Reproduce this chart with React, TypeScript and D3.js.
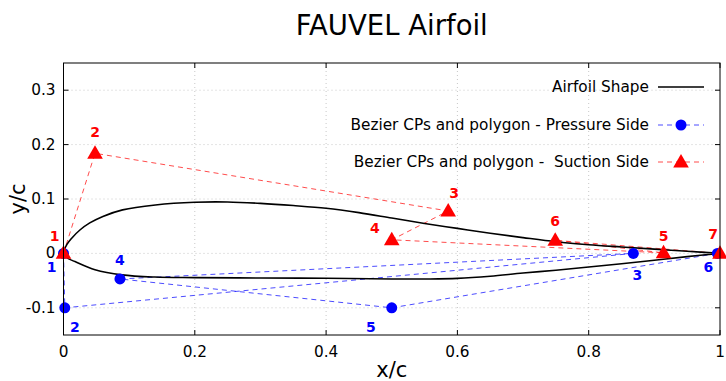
import React from "react";
import * as d3 from "d3";

const upperX = [0, 0.005, 0.0125, 0.025, 0.04, 0.06, 0.09, 0.14, 0.2, 0.25, 0.3, 0.35, 0.4, 0.45, 0.5, 0.55, 0.6, 0.65, 0.7, 0.75, 0.8, 0.85, 0.9, 0.95, 1.0];
const upperY = [0, 0.016, 0.028, 0.043, 0.056, 0.068, 0.08, 0.089, 0.094, 0.0945, 0.092, 0.088, 0.083, 0.075, 0.065, 0.055, 0.046, 0.037, 0.029, 0.0215, 0.016, 0.0118, 0.0078, 0.004, 0];
const lowerX = [0, 0.005, 0.0175, 0.048, 0.089, 0.139, 0.2, 0.3, 0.4, 0.5, 0.55, 0.6, 0.65, 0.7, 0.75, 0.8, 0.85, 0.9, 0.95, 1.0];
const lowerY = [0, -0.008, -0.015, -0.03, -0.0395, -0.0435, -0.0445, -0.0452, -0.0458, -0.047, -0.047, -0.046, -0.042, -0.036, -0.031, -0.025, -0.019, -0.0125, -0.006, 0];

const pressureX = [0, 0.002, 0.868, 0.086, 0.5, 0.996];
const pressureY = [0, -0.1, 0, -0.047, -0.1, 0];
const suctionX = [0, 0.048, 0.586, 0.5, 0.914, 0.749, 1.0];
const suctionY = [0, 0.184, 0.078, 0.025, 0.001, 0.024, 0];

// label offsets [dx, dy] in px for numbering
const pressureLabelOff = [[-12, 19], [10, 24], [4, 27], [0, -14], [-21, 24], [-9, 19]];
const suctionLabelOff = [[-9, -12], [0, -16], [6, -13], [-17, -7], [0, -12], [0, -14], [-7, -14]];

const xTicks = [0, 0.2, 0.4, 0.6, 0.8, 1];
const yTicks = [-0.1, 0, 0.1, 0.2, 0.3];
const legendLabels = ["Airfoil Shape", "Bezier CPs and polygon - Pressure Side", "Bezier CPs and polygon -  Suction Side"];

const W = 726, H = 381;
const L = 63.5, R = 720, T = 63, B = 335;
const FONT = "DejaVu Sans, sans-serif";

export default function App() {
  const x = d3.scaleLinear().domain([0, 1]).range([L, R]);
  const y = d3.scaleLinear().domain([-0.15, 0.35]).range([B, T]);

  const pts: [number, number][] = [];
  for (let i = upperX.length - 1; i >= 0; i--) pts.push([upperX[i], upperY[i]]);
  for (let i = 1; i < lowerX.length; i++) pts.push([lowerX[i], lowerY[i]]);
  const airfoil = d3.line<[number, number]>().x(d => x(d[0])).y(d => y(d[1])).curve(d3.curveCatmullRom.alpha(0.5))(pts) || "";

  const polyP = d3.line<number>().x(i => x(pressureX[i])).y(i => y(pressureY[i]))(pressureX.map((_, i) => i)) || "";
  const polyS = d3.line<number>().x(i => x(suctionX[i])).y(i => y(suctionY[i]))(suctionX.map((_, i) => i)) || "";

  const blue = "#0000ff";
  const red = "#ff0000";
  const tri = (cx: number, cy: number, s: number) =>
    `M${cx},${cy - s * 0.62}L${cx + s * 0.6},${cy + s * 0.42}L${cx - s * 0.6},${cy + s * 0.42}Z`;

  const grid = "#c8c8c8";
  const legY = [87, 125, 162];

  return (
    <svg width={W} height={H} style={{ position: "absolute", left: 0, top: 0, background: "#fff" }} fontFamily={FONT}>
      <rect x={0} y={0} width={W} height={H} fill="#fff" />
      <text x={(L + R) / 2} y={35} textAnchor="middle" fontSize={27.5}>FAUVEL Airfoil</text>
      {/* grid */}
      {xTicks.filter(t => t > 0 && t < 1).map(t => (
        <line key={"gx" + t} x1={x(t)} x2={x(t)} y1={T} y2={B} stroke={grid} strokeWidth={1} strokeDasharray="1,3" />
      ))}
      {yTicks.map(t => (
        <line key={"gy" + t} x1={L} x2={R} y1={y(t)} y2={y(t)} stroke={grid} strokeWidth={1} strokeDasharray="1,3" />
      ))}
      {/* ticks */}
      {xTicks.map(t => (
        <g key={"tx" + t}>
          <line x1={x(t)} x2={x(t)} y1={B} y2={B - 5} stroke="#000" />
          <line x1={x(t)} x2={x(t)} y1={T} y2={T + 5} stroke="#000" />
          <text x={x(t)} y={B + 22} textAnchor="middle" fontSize={15.3}>{String(t)}</text>
        </g>
      ))}
      {yTicks.map(t => (
        <g key={"ty" + t}>
          <line x1={L} x2={L + 5} y1={y(t)} y2={y(t)} stroke="#000" />
          <line x1={R} x2={R - 5} y1={y(t)} y2={y(t)} stroke="#000" />
          <text x={L - 8} y={y(t) + 5} textAnchor="end" fontSize={15.3}>{String(t)}</text>
        </g>
      ))}
      <text x={(L + R) / 2} y={377} textAnchor="middle" fontSize={21}>x/c</text>
      <text transform={`translate(25,${(T + B) / 2}) rotate(-90)`} textAnchor="middle" fontSize={21}>y/c</text>

      {/* polygons */}
      <path d={polyP} fill="none" stroke={blue} strokeOpacity={0.7} strokeWidth={1} strokeDasharray="5,4" />
      <path d={polyS} fill="none" stroke={red} strokeOpacity={0.7} strokeWidth={1} strokeDasharray="5,4" />
      {/* airfoil */}
      <path d={airfoil} fill="none" stroke="#000" strokeWidth={1.6} />
      {/* markers */}
      {pressureX.map((px, i) => (
        <circle key={"pc" + i} cx={x(px)} cy={y(pressureY[i])} r={5.5} fill={blue} />
      ))}
      {suctionX.map((sx, i) => (
        <path key={"st" + i} d={tri(x(sx), y(suctionY[i]), 13)} fill={red} />
      ))}
      {pressureX.map((px, i) => (
        <text key={"pl" + i} x={x(px) + pressureLabelOff[i][0]} y={y(pressureY[i]) + pressureLabelOff[i][1]} textAnchor="middle" fontSize={14} fontWeight="bold" fill={blue}>{i + 1}</text>
      ))}
      {suctionX.map((sx, i) => (
        <text key={"sl" + i} x={x(sx) + suctionLabelOff[i][0]} y={y(suctionY[i]) + suctionLabelOff[i][1]} textAnchor="middle" fontSize={14} fontWeight="bold" fill={red}>{i + 1}</text>
      ))}

      {/* frame */}
      <rect x={L} y={T} width={R - L} height={B - T} fill="none" stroke="#000" strokeWidth={1} />

      {/* legend */}
      {legendLabels.map((lab, i) => (
        <text key={"lg" + i} x={649} y={legY[i] + 5} textAnchor="end" fontSize={15.3} style={{ whiteSpace: "pre" }}>{lab}</text>
      ))}
      <line x1={658} x2={704} y1={legY[0]} y2={legY[0]} stroke="#000" strokeWidth={1.6} />
      <line x1={658} x2={704} y1={legY[1]} y2={legY[1]} stroke={blue} strokeOpacity={0.7} strokeDasharray="5,4" />
      <circle cx={681} cy={legY[1]} r={5.5} fill={blue} />
      <line x1={658} x2={704} y1={legY[2]} y2={legY[2]} stroke={red} strokeOpacity={0.7} strokeDasharray="5,4" />
      <path d={tri(681, legY[2], 13)} fill={red} />
    </svg>
  );
}
